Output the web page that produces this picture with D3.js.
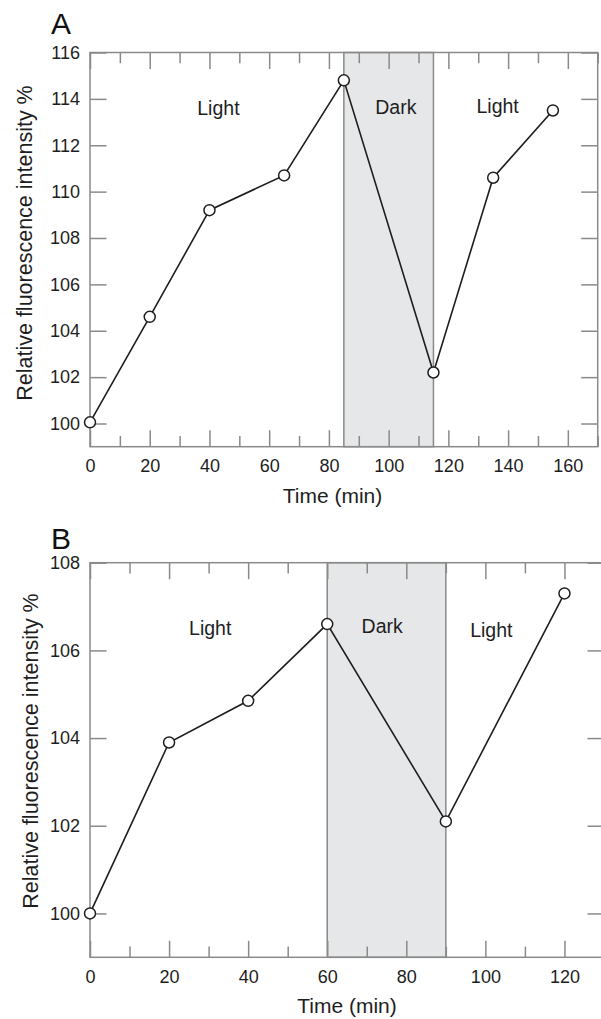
<!DOCTYPE html>
<html>
<head>
<meta charset="utf-8">
<script src="https://cdn.jsdelivr.net/npm/d3@7"></script>
<style>
  body { margin: 0; background: #fff; }
  svg { display: block; font-family: "Liberation Sans", Arial, Helvetica, sans-serif; }
</style>
</head>
<body>
<div id="chart"></div>
<script>
// panel A data
var timeA = [0, 20, 40, 65, 85, 115, 135, 155];
var fluorA = [100.05, 104.6, 109.2, 110.7, 114.8, 102.2, 110.6, 113.5];
var darkA = [85, 115];
var xTicksA = [0, 20, 40, 60, 80, 100, 120, 140, 160];
var yTicksA = [100, 102, 104, 106, 108, 110, 112, 114, 116];

// panel B data
var timeB = [0, 20, 40, 60, 90, 120];
var fluorB = [100, 103.9, 104.85, 106.6, 102.1, 107.3];
var darkB = [60, 90];
var xTicksB = [0, 20, 40, 60, 80, 100, 120];
var yTicksB = [100, 102, 104, 106, 108];

var phaseNames = ["Light", "Dark", "Light"];

var W = 601, H = 1019;
var axisColor = "#8a8a8a";
var inkColor = "#1e1e1e";
var fontFam = "'Liberation Sans', Arial, Helvetica, sans-serif";

var svg = d3.select("#chart").append("svg")
    .attr("width", W)
    .attr("height", H);

function drawPanel(p) {
  var x = d3.scaleLinear().domain(p.xDomain).range([p.left, p.right]);
  var y = d3.scaleLinear().domain(p.yDomain).range([p.bottom, p.top]);
  var g = svg.append("g");

  // minor ticks every 10 min
  var minor = d3.range(p.xDomain[0], p.xDomain[1] + 1, 10).filter(function(v) { return p.xTicks.indexOf(v) < 0; });

  // dark period
  g.append("rect")
    .attr("x", x(p.dark[0]))
    .attr("y", y(p.yDomain[1]))
    .attr("width", x(p.dark[1]) - x(p.dark[0]))
    .attr("height", y(p.yDomain[0]) - y(p.yDomain[1]))
    .attr("fill", "#e6e7e9")
    .attr("stroke", axisColor)
    .attr("stroke-width", 1.5);

  // axes, ticks pointing inward
  g.append("g").attr("transform", "translate(0," + p.bottom + ")")
    .call(d3.axisBottom(x).tickValues(p.xTicks).tickSizeInner(-16.5).tickSizeOuter(0).tickPadding(13).tickFormat(d3.format("d")));
  g.append("g").attr("transform", "translate(0," + p.bottom + ")")
    .call(d3.axisBottom(x).tickValues(minor).tickSizeInner(-10.7).tickSizeOuter(0).tickFormat(""));
  g.append("g").attr("transform", "translate(0," + p.top + ")")
    .call(d3.axisTop(x).tickValues(p.xTicks).tickSizeInner(-16.5).tickSizeOuter(0).tickFormat(""));
  g.append("g").attr("transform", "translate(0," + p.top + ")")
    .call(d3.axisTop(x).tickValues(minor).tickSizeInner(-10.7).tickSizeOuter(0).tickFormat(""));
  g.append("g").attr("transform", "translate(" + p.left + ",0)")
    .call(d3.axisLeft(y).tickValues(p.yTicks).tickSizeInner(-16.5).tickSizeOuter(0).tickPadding(10).tickFormat(d3.format("d")));
  g.append("g").attr("transform", "translate(" + p.right + ",0)")
    .call(d3.axisRight(y).tickValues(p.yTicks).tickSizeInner(-16.5).tickSizeOuter(0).tickFormat(""));

  g.selectAll(".domain").remove();
  g.selectAll(".tick line").attr("stroke", axisColor).attr("stroke-width", 1.5);
  g.selectAll(".tick text")
    .attr("fill", inkColor)
    .style("font-family", fontFam)
    .style("font-size", "18px");

  // frame
  g.append("rect")
    .attr("x", p.left).attr("y", p.top)
    .attr("width", p.right - p.left).attr("height", p.bottom - p.top)
    .attr("fill", "none")
    .attr("stroke", axisColor)
    .attr("stroke-width", 1.5);

  var pts = p.time.map(function(t, i) { return [t, p.fluor[i]]; });

  g.append("path")
    .datum(pts)
    .attr("fill", "none")
    .attr("stroke", inkColor)
    .attr("stroke-width", 1.6)
    .attr("d", d3.line().x(function(d) { return x(d[0]); }).y(function(d) { return y(d[1]); }));

  g.selectAll("circle.pt")
    .data(pts)
    .enter().append("circle")
    .attr("class", "pt")
    .attr("cx", function(d) { return x(d[0]); })
    .attr("cy", function(d) { return y(d[1]); })
    .attr("r", 5.5)
    .attr("fill", "#fff")
    .attr("stroke", inkColor)
    .attr("stroke-width", 1.5);

  // Light / Dark labels
  g.selectAll("text.phase")
    .data(phaseNames)
    .enter().append("text")
    .attr("class", "phase")
    .attr("x", function(d, i) { return x(p.phaseAt[i][0]); })
    .attr("y", function(d, i) { return y(p.phaseAt[i][1]); })
    .attr("text-anchor", "middle")
    .attr("fill", inkColor)
    .style("font-size", "19.5px")
    .text(function(d) { return d; });

  // titles
  g.append("text")
    .attr("x", p.xTitle[0]).attr("y", p.xTitle[1])
    .attr("text-anchor", "middle")
    .attr("fill", inkColor)
    .style("font-size", "21px")
    .text("Time (min)");

  g.append("text")
    .attr("transform", "translate(" + p.yTitle[0] + "," + p.yTitle[1] + ") rotate(-90)")
    .attr("text-anchor", "middle")
    .attr("fill", inkColor)
    .style("font-size", "21.5px")
    .text("Relative fluorescence intensity %");

  g.append("text")
    .attr("x", 51).attr("y", p.letterY)
    .attr("fill", "#111")
    .style("font-size", "30px")
    .text(p.letter);
}

drawPanel({
  letter: "A", letterY: 33.5,
  time: timeA, fluor: fluorA, dark: darkA,
  xTicks: xTicksA, yTicks: yTicksA,
  xDomain: [0, 170], yDomain: [99, 116],
  left: 90, right: 597.7, top: 52.5, bottom: 446.7,
  phaseAt: [[43, 113.3], [102.4, 113.35], [136.5, 113.4]],
  xTitle: [332.5, 503.3], yTitle: [31.7, 243]
});

drawPanel({
  letter: "B", letterY: 548.5,
  time: timeB, fluor: fluorB, dark: darkB,
  xTicks: xTicksB, yTicks: yTicksB,
  xDomain: [0, 130], yDomain: [99, 108],
  left: 90, right: 604, top: 562.7, bottom: 957.3,
  phaseAt: [[30.4, 106.35], [73.9, 106.39], [101.5, 106.3]],
  xTitle: [347, 1013], yTitle: [38.3, 751]
});
</script>
</body>
</html>
